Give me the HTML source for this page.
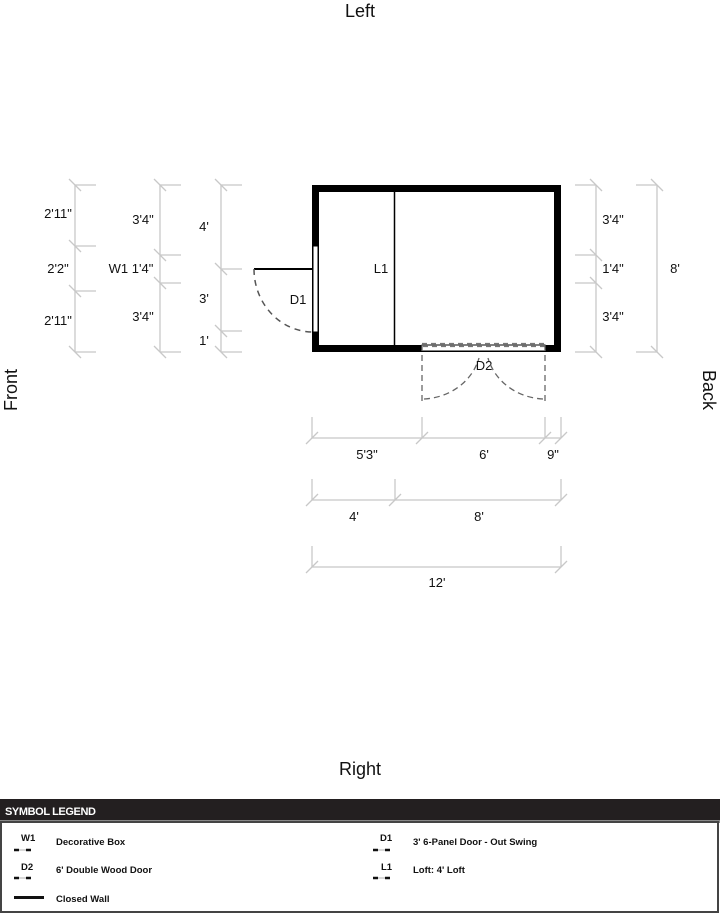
<!DOCTYPE html>
<html><head><meta charset="utf-8"><style>
html,body{margin:0;padding:0;background:#fff;}
svg{display:block;}
text{font-family:"Liberation Sans",Arial,sans-serif;}
</style></head><body>
<svg width="720" height="913" viewBox="0 0 720 913" xmlns="http://www.w3.org/2000/svg">
<rect width="720" height="913" fill="#fff"/>
<text x="360" y="17" font-size="18" text-anchor="middle" fill="#111">Left</text>
<text x="360" y="775" font-size="18" text-anchor="middle" fill="#111">Right</text>
<text transform="translate(17,390) rotate(-90)" font-size="18" text-anchor="middle" fill="#111">Front</text>
<text transform="translate(703,390) rotate(90)" font-size="18" text-anchor="middle" fill="#111">Back</text>

<g stroke="#c8c8c8" stroke-width="1.3" fill="none">
<!-- left col1 x=75 -->
<line x1="75" y1="185" x2="75" y2="352"/>
<line x1="75" y1="185" x2="96" y2="185"/><line x1="75" y1="246" x2="96" y2="246"/><line x1="75" y1="291" x2="96" y2="291"/><line x1="75" y1="352" x2="96" y2="352"/>
<path d="M69 179L81 191M69 240L81 252M69 285L81 297M69 346L81 358"/>
<!-- col2 x=160 -->
<line x1="160" y1="185" x2="160" y2="352"/>
<line x1="160" y1="185" x2="181" y2="185"/><line x1="160" y1="255" x2="181" y2="255"/><line x1="160" y1="283" x2="181" y2="283"/><line x1="160" y1="352" x2="181" y2="352"/>
<path d="M154 179L166 191M154 249L166 261M154 277L166 289M154 346L166 358"/>
<!-- col3 x=221 -->
<line x1="221" y1="185" x2="221" y2="352"/>
<line x1="221" y1="185" x2="242" y2="185"/><line x1="221" y1="269" x2="242" y2="269"/><line x1="221" y1="331" x2="242" y2="331"/><line x1="221" y1="352" x2="242" y2="352"/>
<path d="M215 179L227 191M215 263L227 275M215 325L227 337M215 346L227 358"/>
<!-- right col1 x=596 -->
<line x1="596" y1="185" x2="596" y2="352"/>
<line x1="575" y1="185" x2="596" y2="185"/><line x1="575" y1="255" x2="596" y2="255"/><line x1="575" y1="283" x2="596" y2="283"/><line x1="575" y1="352" x2="596" y2="352"/>
<path d="M590 179L602 191M590 249L602 261M590 277L602 289M590 346L602 358"/>
<!-- right col2 x=657 -->
<line x1="657" y1="185" x2="657" y2="352"/>
<line x1="636" y1="185" x2="657" y2="185"/><line x1="636" y1="352" x2="657" y2="352"/>
<path d="M651 179L663 191M651 346L663 358"/>
<!-- bottom 1 y=438 -->
<line x1="312" y1="438" x2="561" y2="438"/>
<line x1="312" y1="417" x2="312" y2="438"/><line x1="422" y1="417" x2="422" y2="438"/><line x1="545" y1="417" x2="545" y2="438"/><line x1="561" y1="417" x2="561" y2="438"/>
<path d="M306 444L318 432M416 444L428 432M539 444L551 432M555 444L567 432"/>
<!-- bottom 2 y=500 -->
<line x1="312" y1="500" x2="561" y2="500"/>
<line x1="312" y1="479" x2="312" y2="500"/><line x1="395" y1="479" x2="395" y2="500"/><line x1="561" y1="479" x2="561" y2="500"/>
<path d="M306 506L318 494M389 506L401 494M555 506L567 494"/>
<!-- bottom 3 y=567 -->
<line x1="312" y1="567" x2="561" y2="567"/>
<line x1="312" y1="546" x2="312" y2="567"/><line x1="561" y1="546" x2="561" y2="567"/>
<path d="M306 573L318 561M555 573L567 561"/>
</g>

<g font-size="13" fill="#111" text-anchor="middle">
<text x="58" y="218">2'11"</text><text x="58" y="273">2'2"</text><text x="58" y="325">2'11"</text>
<text x="143" y="224">3'4"</text><text x="131" y="273">W1 1'4"</text><text x="143" y="321">3'4"</text>
<text x="204" y="231">4'</text><text x="204" y="303">3'</text><text x="204" y="345">1'</text>
<text x="613" y="224">3'4"</text><text x="613" y="273">1'4"</text><text x="613" y="321">3'4"</text>
<text x="675" y="273">8'</text>
<text x="367" y="459">5'3"</text><text x="484" y="459">6'</text><text x="553" y="459">9"</text>
<text x="354" y="521">4'</text><text x="479" y="521">8'</text>
<text x="437" y="587">12'</text>
<text x="381" y="273">L1</text><text x="298" y="304">D1</text><text x="484" y="370">D2</text>
</g>

<!-- building -->
<rect x="315.5" y="188.5" width="242" height="160" fill="none" stroke="#000" stroke-width="7"/>
<line x1="394.5" y1="192" x2="394.5" y2="345" stroke="#000" stroke-width="1.5"/>
<!-- D1 -->
<rect x="313" y="246" width="5" height="86" fill="#fff" stroke="#000" stroke-width="1"/>
<line x1="254" y1="269" x2="313" y2="269" stroke="#000" stroke-width="2"/>
<path d="M254 269 A59 63 0 0 0 313 332" fill="none" stroke="#555" stroke-width="1.5" stroke-dasharray="6,5"/>
<!-- D2 -->
<rect x="422" y="345" width="123" height="6" fill="#fff" stroke="#000" stroke-width="1"/>
<rect x="422" y="343.5" width="123" height="3" fill="none" stroke="#777" stroke-width="1.3" stroke-dasharray="5,4"/>
<g stroke="#666" stroke-width="1.3" fill="none" stroke-dasharray="6,4">
<line x1="422" y1="345" x2="422" y2="405"/><line x1="545" y1="345" x2="545" y2="405"/>
<path d="M424 399 A60 55 0 0 0 479 358"/>
<path d="M543 399 A60 55 0 0 1 488 358"/>
</g>

<!-- legend -->
<rect x="0" y="799" width="720" height="21" fill="#231f20"/>
<rect x="0" y="820" width="720" height="3" fill="#888"/>
<text x="5" y="815" font-size="11" font-weight="bold" fill="#fff" letter-spacing="-0.4">SYMBOL LEGEND</text>
<rect x="1" y="822" width="717" height="90" fill="none" stroke="#444" stroke-width="2"/>
<g font-size="9.5" font-weight="bold" fill="#111">
<text x="56" y="845">Decorative Box</text>
<text x="56" y="873">6' Double Wood Door</text>
<text x="56" y="902">Closed Wall</text>
<text x="413" y="845">3' 6-Panel Door - Out Swing</text>
<text x="413" y="873">Loft: 4' Loft</text>
<text x="21" y="841">W1</text><text x="21" y="870">D2</text>
<text x="380" y="841">D1</text><text x="381" y="870">L1</text>
</g>
<g stroke="#111" stroke-width="2.5">
<path d="M14 850h5M26 850h5M14 878h5M26 878h5M373 850h5M385 850h5M373 878h5M385 878h5"/>
</g>
<g stroke="#999" stroke-width="0.8">
<path d="M19 850h7M19 878h7M378 850h7M378 878h7"/>
</g>
<rect x="14" y="896" width="30" height="3" fill="#111"/>
</svg>
</body></html>
